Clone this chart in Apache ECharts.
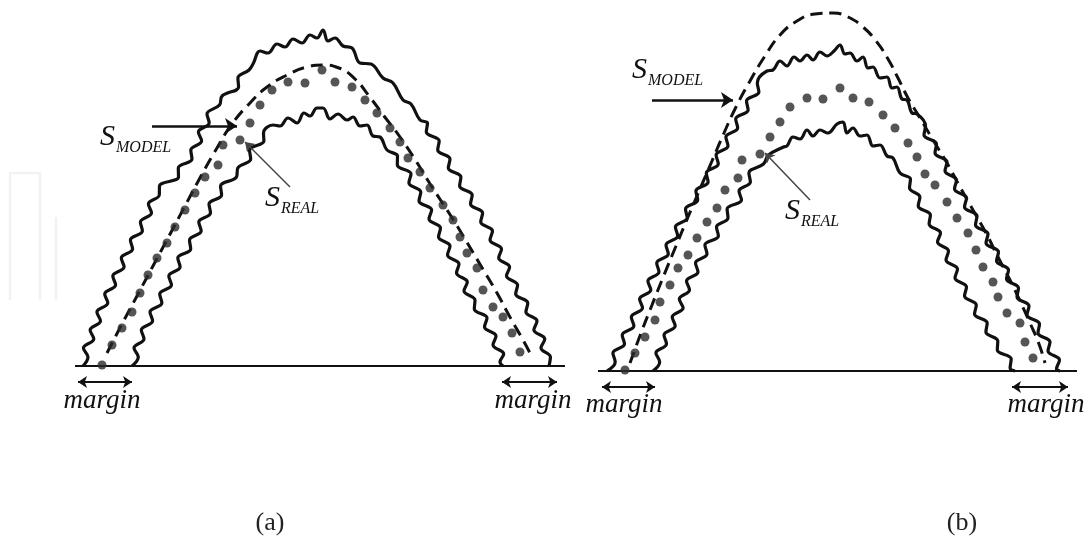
<!DOCTYPE html>
<html>
<head>
<meta charset="utf-8">
<script src="https://cdn.jsdelivr.net/npm/echarts@6/dist/echarts.min.js"></script>
<style>
  html, body { margin: 0; padding: 0; background: #fff; }
  #chart { width: 1086px; height: 549px; }
</style>
</head>
<body>
<div id="chart"></div>
<script>
// Units: x = distance along the base line, y = height above it (one unit per pixel of the panel).

// ---- Panel (a): model path lies inside the tolerance band ----
const outerA = [
  [23,0],[28,9],[23.4,18],[33.8,27],[30.1,36],[40.5,45],[36.9,54],[47.8,63],[44.7,72],[55.6,81],
  [52.8,90],[64.1,99],[61.3,108],[72.6,117],[70.4,126],[82.4,135],[80.4,144],[91.5,153],[88.4,162],
  [99.3,171],[99.5,180],[118.5,189],[118.3,198],[132,207],[130.8,216],[141.6,225],[138.4,234],
  [149.2,243],[147,252],[159.5,261],[162.1,270],[178.6,279],[177.9,288],[189,296],
  [193,302],[200,315],[208,313],[217,322],[225,319],[233,327],[242,323],[250,331],[257,328],[263,336],
  [268,325],[275,328],[283,320],[292,318],[300,303],[311,302],[323,288],[333,283],[343,266],[351,262],[360,246],
  [367.5,243],[366.3,234],[379.2,225],[377.7,216],[390,207],[388.3,198],[400.9,189],[399.6,180],
  [412.2,171],[410.5,162],[422.6,153],[420.7,144],[432.5,135],[430,126],[441.5,117],[438.7,108],
  [449.6,99],[446.5,90],[457.6,81],[455.7,72],[467.8,63],[465.9,54],[477,45],[473.9,36],[484.8,27],
  [481,18],[490.4,9],[489,0]
];
const innerA = [
  [72,0],[78.3,9],[74,18],[84,27],[81.3,36],[92.6,45],[90,54],[101.9,63],[99.7,72],[111.5,81],
  [108.8,90],[120.1,99],[117.8,108],[130.7,117],[129.5,126],[141.2,135],[138.8,144],[150.5,153],
  [149,162],[161.6,171],[160.5,180],[176.5,189],[177.8,198],[190.7,207],[189.5,216],[203.9,225],[203.5,233],
  [213,241],[220,240],[228,248],[237,243],[244,253],[250,250],[257,258],[263,258],[270,247],[278,252],
  [287,246],[293,249],[300,240],[307,241],[313,230],[320,229],[327,216],
  [337.5,210],[337.3,201],[351,192],[348.9,183],[360.8,174],[359,165],[371.6,156],[369,147],
  [380.5,138],[378.5,129],[390,120],[387.5,111],[399,102],[396.5,93],[407.3,84],[404,75],[415,66],
  [414.3,57],[427,48],[424.5,39],[436,30],[433,21],[443.7,12],[440,4],[443,0]
];
const modelA = [
  [47,13],[62,42],[77,70],[93,100],[109,130],[125,160],[141,190],[157,218],[172,242],[190,263],
  [207,279],[227,291],[247,299],[263,301],[279,298],[295,287],[309,270],[324,250],[340,229],
  [356,205],[372,179],[389,153],[405,127],[421,100],[437,73],[451,47],[463,26],[470,13]
];
const realA = [
  [42,1],[52,21],[62,38],[72,54],[80,73],[88,91],[97,108],[107,123],[115,139],[125,156],
  [135,173],[145,189],[158,201],[163,221],[180,226],[190,243],[200,261],[212,276],[228,284],
  [245,283],[262,296],[275,284],[292,279],[305,266],[317,253],[330,238],[340,224],[348,208],
  [360,194],[370,178],[383,161],[393,146],[400,129],[407,113],[417,98],[423,76],[433,59],
  [443,49],[452,33],[460,14]
];
const baseA = [[15,0],[505,0]];
const marginA = [[[18,-16],[72,-16]], [[442,-16],[497,-16]]];

// ---- Panel (b): model path runs above the band ----
const outerB = [
  [27,0],[35.2,9],[32.9,18],[44.5,27],[42.2,36],[53.9,45],[51.3,54],[62.5,63],[59.6,72],[70.8,81],
  [67.9,90],[79,99],[76.7,108],[88.3,117],[86,126],[97.7,135],[95.4,144],[107.2,153],[105.5,162],
  [117.7,171],[115.9,180],[128.1,189],[126.3,198],[138.3,207],[136.1,216],[148,225],[145.9,234],
  [157.7,243],[155.7,252],[168.1,261],[166.5,270],[178.9,279],[177.3,288],
  [187,300],[193,301],[200,310],[207,305],[214,314],[220,310],[227,316],[233,311],[240,319],[247,315],
  [254,320],[260,326],[265,317],[270,318],[277,310],[283,314],[288,303],[293,304],[300,293],[307,294],
  [312,283],[317,284],[322,272],[327,271],[332,258],[337,257],
  [345.5,245],[344,236],[356.5,227],[355,218],[367,209],[365,200],[376.5,191],[374.5,182],
  [386.5,173],[384.5,164],[397,155],[395.5,146],[408,137],[406,128],[418.5,119],[416.5,110],
  [428.5,101],[426.5,92],[438.5,83],[437,74],[449,65],[447,56],[459.5,47],[458,38],[470,29],
  [468,20],[479.5,11],[476.5,2],[480,0]
];
const innerB = [
  [73,0],[79.7,9],[75.9,18],[86.5,27],[84,36],[95.2,45],[92.2,54],[103.1,63],[99.3,72],[109.5,81],
  [106.5,90],[118,99],[115.5,108],[127,117],[124.9,126],[138.4,135],[136.5,144],[148,153],[147.1,162],
  [161.5,171],[159,180],[170.4,189],[168.9,198],[183.5,207],[188.5,216],[203.5,224],
  [207,225],[213,234],[220,232],[227,241],[233,235],[240,241],[248,238],[257,247],[263,249],[267,238],
  [273,243],[280,235],[287,236],[293,225],[300,226],[307,215],[313,213],[320,198],
  [330.5,192],[329.5,183],[339.9,174],[338.2,165],[350.4,156],[349.1,147],[360.5,138],[357.5,129],
  [368.5,120],[366,111],[377.5,102],[375,93],[386.5,84],[384.5,75],[396.3,66],[394.5,57],[407.2,48],
  [405.9,39],[417.8,30],[417.3,21],[431.2,12],[430.1,3],[435,0]
];
const modelB = [
  [50,8],[61,38],[72,66],[84,96],[96,125],[108,154],[120,182],[132,210],[144,238],[156,264],
  [170,290],[185,315],[200,336],[217,350],[235,357],[253,358],[268,354],[283,344],[296,330],
  [308,312],[318,293],[328,273],[340,253],[353,231],[367,208],[380,184],[393,161],[406,138],
  [418,114],[430,91],[440,70],[450,48],[459,27],[465,8]
];
const realB = [
  [45,1],[55,18],[65,34],[75,51],[80,69],[90,86],[98,103],[108,116],[117,133],[127,149],
  [137,163],[145,181],[158,193],[162,211],[180,217],[190,234],[200,249],[210,264],[227,273],
  [243,272],[260,283],[273,273],[289,269],[303,256],[315,243],[328,228],[337,214],[345,197],
  [355,186],[367,169],[377,153],[388,138],[396,121],[403,104],[413,89],[418,74],[427,58],
  [440,48],[445,29],[453,13]
];
const baseB = [[18,0],[497,0]];
const marginB = [[[22,-16],[75,-16]], [[432,-16],[488,-16]]];

// Texts
const symbolMain = 'S';
const subModel = 'MODEL';
const subReal = 'REAL';
const marginText = 'margin';
const panelNames = ['(a)', '(b)'];

// Pointer arrows (from -> to) and label anchors, in panel units
const pointersA = { model: [[92,240],[177,240]], real: [[230,179],[185,224]] };
const pointersB = { model: [[72,271],[153,271]], real: [[230,171],[185,218]] };
const anchorsA = { model: [40,229], real: [205,168], margins: [[42,-35],[473,-35]] };
const anchorsB = { model: [52,301], real: [205,160], margins: [[44,-34],[466,-34]] };

const ink = '#111';
const serif = '"Liberation Serif", "DejaVu Serif", serif';

function bandLine(data, g) {
  return {
    type: 'line', xAxisIndex: g, yAxisIndex: g, data: data,
    smooth: 0.4, symbol: 'none', silent: true,
    lineStyle: { color: ink, width: 3.2 }, z: 3
  };
}
function modelLine(data, g) {
  return {
    type: 'line', xAxisIndex: g, yAxisIndex: g, data: data,
    smooth: true, symbol: 'none', silent: true,
    lineStyle: { color: ink, width: 3, type: [12, 7] }, z: 2
  };
}
function realDots(data, g) {
  return {
    type: 'scatter', xAxisIndex: g, yAxisIndex: g, data: data,
    symbolSize: 9, silent: true,
    itemStyle: { color: '#2b2b2b' }, z: 4
  };
}
function arrow(pair, style, size, twoHeads) {
  return [
    { coord: pair[0], symbol: twoHeads ? 'arrow' : 'none', symbolSize: size, lineStyle: style },
    { coord: pair[1], symbol: 'arrow', symbolSize: size }
  ];
}
function baseLine(data, g, margins, pointers) {
  const marginStyle = { color: ink, width: 2, type: 'solid' };
  return {
    type: 'line', xAxisIndex: g, yAxisIndex: g, data: data,
    symbol: 'none', silent: true,
    lineStyle: { color: ink, width: 2.2 }, z: 1,
    markLine: {
      silent: true, animation: false,
      label: { show: false },
      emphasis: { disabled: true },
      data: [
        arrow(margins[0], marginStyle, 9, true),
        arrow(margins[1], marginStyle, 9, true),
        arrow(pointers.model, { color: ink, width: 2.5, type: 'solid' }, 12, false),
        arrow(pointers.real, { color: '#444', width: 1.5, type: 'solid' }, 9, false)
      ]
    }
  };
}

const chart = echarts.init(document.getElementById('chart'), null, { renderer: 'canvas' });
chart.setOption({
  animation: false,
  backgroundColor: '#fff',
  grid: [
    { left: 60, top: 20, width: 520, height: 426 },
    { left: 580, top: 0, width: 506, height: 451 }
  ],
  xAxis: [
    { gridIndex: 0, type: 'value', min: 0, max: 520, show: false },
    { gridIndex: 1, type: 'value', min: 0, max: 506, show: false }
  ],
  yAxis: [
    { gridIndex: 0, type: 'value', min: -80, max: 346, show: false },
    { gridIndex: 1, type: 'value', min: -80, max: 371, show: false }
  ],
  series: [
    baseLine(baseA, 0, marginA, pointersA),
    modelLine(modelA, 0), bandLine(outerA, 0), bandLine(innerA, 0), realDots(realA, 0),
    baseLine(baseB, 1, marginB, pointersB),
    modelLine(modelB, 1), bandLine(outerB, 1), bandLine(innerB, 1), realDots(realB, 1)
  ]
});

// Annotation texts placed from panel units
const texts = [];
function txt(x, y, text, font, align, color) {
  texts.push({
    type: 'text', x: x, y: y, silent: true,
    style: { text: text, font: font, fill: color || ink,
             textAlign: align, textVerticalAlign: 'middle', align: align, verticalAlign: 'middle' }
  });
}
function symbolLabel(g, anchor, sub) {
  const p = chart.convertToPixel({ gridIndex: g }, anchor);
  txt(p[0], p[1], symbolMain, 'italic 30px ' + serif, 'left');
  txt(p[0] + 16, p[1] + 11, sub, 'italic 16px ' + serif, 'left');
}
[[0, anchorsA], [1, anchorsB]].forEach(function (item) {
  const g = item[0], a = item[1];
  symbolLabel(g, a.model, subModel);
  symbolLabel(g, a.real, subReal);
  a.margins.forEach(function (m) {
    const p = chart.convertToPixel({ gridIndex: g }, m);
    txt(p[0], p[1], marginText, 'italic 27px ' + serif, 'center');
  });
});
txt(270, 523, panelNames[0], '26px ' + serif, 'center', '#222');
txt(962, 523, panelNames[1], '26px ' + serif, 'center', '#222');

// faint frame marks along the left edge
texts.push({ type: 'polyline', silent: true, shape: { points: [[10,300],[10,173],[40,173],[40,300]] },
             style: { stroke: '#f1f3f2', lineWidth: 2.5, fill: null } });
texts.push({ type: 'line', silent: true, shape: { x1: 56, y1: 217, x2: 56, y2: 300 },
             style: { stroke: '#f1f3f2', lineWidth: 2.5 } });

chart.setOption({ graphic: { elements: texts } });
</script>
</body>
</html>
